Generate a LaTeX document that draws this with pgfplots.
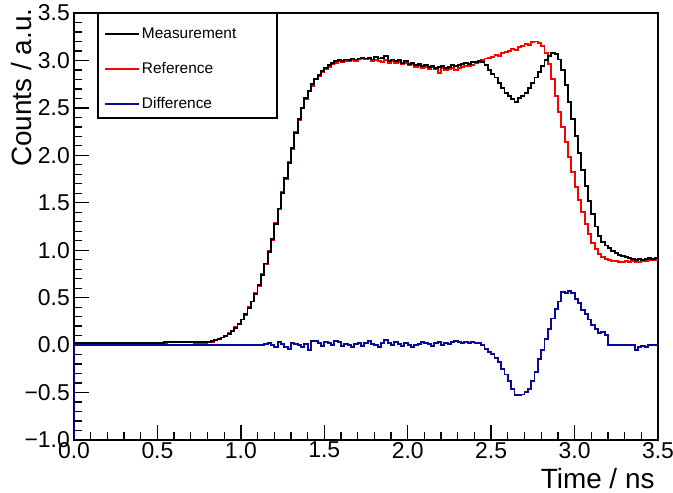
\documentclass[border=0pt]{standalone}
\usepackage{fontspec}
\setmainfont{Liberation Sans}
\usepackage{pgfplots}
\pgfplotsset{compat=1.18}
\definecolor{diffblue}{RGB}{10,10,150}

\begin{document}
\begin{tikzpicture}
\useasboundingbox (-74bp,-53bp) rectangle (599bp,440bp);
\begin{axis}[
  scale only axis, width=584bp, height=427bp,
  xmin=0, xmax=3.5, ymin=-1, ymax=3.5,
  xtick={0,0.5,1,1.5,2,2.5,3,3.5},
  ytick={-1,-0.5,0,0.5,1,1.5,2,2.5,3,3.5},
  xticklabels={0.0,0.5,1.0,1.5,2.0,2.5,3.0,3.5},
  yticklabels={−1.0,−0.5,0.0,0.5,1.0,1.5,2.0,2.5,3.0,3.5},
  minor tick num=4, tick pos=left, tick align=inside,
  major tick length=15bp, minor tick length=8bp,
  axis line style={line width=1.6bp},
  tick style={black, line width=1.3bp},
  ticklabel style={font=\fontsize{23}{26}\selectfont},
  xticklabel style={inner sep=2bp},
  yticklabel style={inner sep=4bp},
  legend style={at={(rel axis cs:0,1)}, anchor=north west,
    xshift=27bp, yshift=-12bp, draw=none, fill=none,
    font=\fontsize{15.5}{18}\selectfont, row sep=21bp,
    nodes={inner ysep=0pt, text height=11bp, text depth=3bp}},
  legend cell align=left,
  legend image code/.code={\draw[#1, line width=1.8bp] (0bp,0bp) -- (34bp,0bp);},
  every axis plot/.append style={const plot, line width=1.9bp},
]
\addlegendimage{black}
\addlegendentry{Measurement}
\addlegendimage{red}
\addlegendentry{Reference}
\addlegendimage{diffblue}
\addlegendentry{Difference}

% reference
\addplot[red, forget plot] coordinates {
  (0,0.02) (0.56,0.03) (0.72,0.02) (0.80,0.03) (0.82,0.03) (0.84,0.05)
  (0.86,0.07) (0.88,0.08) (0.90,0.10) (0.92,0.13) (0.94,0.15) (0.96,0.19)
  (0.98,0.22) (1.00,0.27) (1.02,0.32) (1.04,0.40) (1.06,0.46) (1.08,0.55)
  (1.10,0.62) (1.12,0.75) (1.14,0.85) (1.16,0.99) (1.18,1.11) (1.20,1.29)
  (1.22,1.43) (1.24,1.61) (1.26,1.75) (1.28,1.93) (1.30,2.07) (1.32,2.25)
  (1.34,2.37) (1.36,2.50) (1.38,2.59) (1.40,2.68) (1.42,2.73) (1.44,2.80)
  (1.46,2.84) (1.48,2.88) (1.50,2.91) (1.52,2.93) (1.54,2.96) (1.56,2.97)
  (1.58,2.99) (1.60,2.98) (1.62,2.99) (1.64,2.99) (1.66,3.00) (1.68,2.99)
  (1.70,3.01) (1.72,3.02) (1.74,3.01) (1.76,3.02) (1.78,2.99) (1.80,3.00)
  (1.82,2.99) (1.84,2.98) (1.86,3.00) (1.88,2.97) (1.90,2.99) (1.92,2.97)
  (1.94,2.98) (1.96,2.96) (1.98,2.97) (2.00,2.95) (2.02,2.96) (2.04,2.93)
  (2.06,2.94) (2.08,2.92) (2.10,2.93) (2.12,2.91) (2.14,2.93) (2.16,2.91)
  (2.18,2.87) (2.20,2.92) (2.22,2.90) (2.24,2.91) (2.26,2.92) (2.28,2.90)
  (2.30,2.92) (2.32,2.93) (2.34,2.94) (2.36,2.94) (2.38,2.95) (2.40,2.97)
  (2.42,2.98) (2.44,3.00) (2.46,3.02) (2.48,3.03) (2.50,3.04) (2.52,3.06)
  (2.54,3.05) (2.56,3.08) (2.58,3.09) (2.60,3.10) (2.62,3.12) (2.64,3.11)
  (2.66,3.14) (2.68,3.15) (2.70,3.17) (2.72,3.16) (2.74,3.19) (2.76,3.20)
  (2.78,3.18) (2.80,3.15) (2.82,3.08) (2.84,2.96) (2.86,2.80) (2.88,2.63)
  (2.90,2.46) (2.92,2.30) (2.94,2.14) (2.96,1.98) (2.98,1.82) (3.00,1.67)
  (3.02,1.53) (3.04,1.40) (3.06,1.28) (3.08,1.17) (3.10,1.08) (3.12,1.01)
  (3.14,0.96) (3.16,0.93) (3.18,0.91) (3.20,0.90) (3.22,0.89) (3.24,0.89)
  (3.26,0.88) (3.28,0.88) (3.30,0.89) (3.32,0.88) (3.34,0.89) (3.36,0.88)
  (3.40,0.89) (3.44,0.90) (3.48,0.90) (3.50,0.90)
};

% measurement
\addplot[black, forget plot] coordinates {
  (0,0.02) (0.54,0.03) (0.80,0.03) (0.82,0.04) (0.84,0.05) (0.86,0.06)
  (0.88,0.08) (0.90,0.10) (0.92,0.12) (0.94,0.15) (0.96,0.18) (0.98,0.22)
  (1.00,0.27) (1.02,0.33) (1.04,0.39) (1.06,0.46) (1.08,0.54) (1.10,0.63)
  (1.12,0.74) (1.14,0.86) (1.16,0.98) (1.18,1.12) (1.20,1.28) (1.22,1.44)
  (1.24,1.60) (1.26,1.76) (1.28,1.92) (1.30,2.08) (1.32,2.24) (1.34,2.38)
  (1.36,2.50) (1.38,2.60) (1.40,2.68) (1.42,2.75) (1.44,2.80) (1.46,2.85)
  (1.48,2.89) (1.50,2.92) (1.52,2.95) (1.54,2.97) (1.56,2.99) (1.58,3.00)
  (1.60,2.99) (1.62,3.01) (1.64,3.00) (1.66,3.02) (1.68,3.01) (1.70,3.02)
  (1.72,3.03) (1.74,3.02) (1.76,3.03) (1.78,3.01) (1.80,3.04) (1.82,3.02)
  (1.84,3.03) (1.86,3.05) (1.88,2.99) (1.90,3.01) (1.92,2.99) (1.94,3.00)
  (1.96,2.97) (1.98,2.99) (2.00,2.96) (2.02,2.97) (2.04,2.95) (2.06,2.96)
  (2.08,2.94) (2.10,2.95) (2.12,2.93) (2.14,2.94) (2.16,2.92) (2.18,2.93)
  (2.20,2.94) (2.22,2.92) (2.24,2.93) (2.26,2.95) (2.28,2.94) (2.30,2.95)
  (2.32,2.96) (2.34,2.97) (2.36,2.96) (2.38,2.98) (2.40,2.98) (2.42,2.99)
  (2.44,2.98) (2.46,2.95) (2.48,2.90) (2.50,2.86) (2.52,2.82) (2.54,2.76)
  (2.56,2.71) (2.58,2.66) (2.60,2.63) (2.62,2.59) (2.64,2.56) (2.66,2.60)
  (2.68,2.63) (2.70,2.66) (2.72,2.71) (2.74,2.76) (2.76,2.82) (2.78,2.88)
  (2.80,2.94) (2.82,3.00) (2.84,3.05) (2.86,3.08) (2.88,3.07) (2.90,3.01)
  (2.92,2.90) (2.94,2.74) (2.96,2.56) (2.98,2.38) (3.00,2.20) (3.02,2.02)
  (3.04,1.85) (3.06,1.68) (3.08,1.52) (3.10,1.38) (3.12,1.25) (3.14,1.15)
  (3.16,1.09) (3.18,1.05) (3.20,1.02) (3.22,0.99) (3.24,0.97) (3.26,0.95)
  (3.28,0.94) (3.30,0.93) (3.32,0.92) (3.34,0.91) (3.36,0.90) (3.38,0.91)
  (3.40,0.90) (3.42,0.91) (3.44,0.92) (3.46,0.91) (3.48,0.92) (3.50,0.92)
};

% difference
\addplot[diffblue, forget plot] coordinates {
  (0,-1) (0,0) (1.14,0.01) (1.16,0.02) (1.18,0.00) (1.20,-0.02) (1.22,0.03)
  (1.24,0.01) (1.26,-0.02) (1.28,-0.04) (1.30,0.02) (1.32,0.01) (1.34,0.00)
  (1.36,-0.02) (1.38,0.01) (1.40,-0.05) (1.42,0.04) (1.44,0.04) (1.46,0.02)
  (1.48,-0.01) (1.50,0.03) (1.52,0.02) (1.54,0.00) (1.56,0.04) (1.58,0.03)
  (1.60,-0.01) (1.62,0.01) (1.64,0.00) (1.66,-0.02) (1.68,0.01) (1.70,0.02)
  (1.72,-0.01) (1.74,0.02) (1.76,0.04) (1.78,0.01) (1.80,0.00) (1.82,-0.02)
  (1.84,0.02) (1.86,0.05) (1.88,0.02) (1.90,0.00) (1.92,0.03) (1.94,0.01)
  (1.96,-0.01) (1.98,0.02) (2.00,0.00) (2.02,-0.02) (2.04,0.00) (2.06,0.01)
  (2.08,0.03) (2.10,0.02) (2.12,0.01) (2.14,-0.01) (2.16,0.02) (2.18,0.03)
  (2.20,0.00) (2.22,0.02) (2.24,0.01) (2.26,0.03) (2.28,0.04) (2.30,0.03)
  (2.32,0.02) (2.34,0.03) (2.36,0.02) (2.38,0.03) (2.40,0.02) (2.42,0.02)
  (2.44,0.00) (2.46,-0.04) (2.48,-0.07) (2.50,-0.09) (2.52,-0.14) (2.54,-0.18)
  (2.56,-0.25) (2.58,-0.31) (2.60,-0.38) (2.62,-0.46) (2.64,-0.53) (2.66,-0.53)
  (2.68,-0.52) (2.70,-0.49) (2.72,-0.46) (2.74,-0.38) (2.76,-0.28) (2.78,-0.15)
  (2.80,-0.05) (2.82,0.06) (2.84,0.17) (2.86,0.28) (2.88,0.38) (2.90,0.46)
  (2.92,0.56) (2.94,0.55) (2.96,0.57) (2.98,0.55) (3.00,0.49) (3.02,0.44)
  (3.04,0.37) (3.06,0.33) (3.08,0.27) (3.10,0.21) (3.12,0.17) (3.14,0.13)
  (3.16,0.14) (3.18,0.11) (3.20,0.00) (3.36,-0.05) (3.38,-0.02) (3.40,-0.01)
  (3.42,-0.02) (3.44,0.00) (3.50,0.00)
};

\draw[line width=1.6bp] ([xshift=24bp]rel axis cs:0,1) rectangle ([xshift=203bp,yshift=-105bp]rel axis cs:0,1);
\end{axis}
\node[rotate=90, anchor=base east, font=\fontsize{28}{32}\selectfont] at (-42bp,435bp) {Counts / a.u.};
\node[anchor=base east, font=\fontsize{28}{32}\selectfont] at (584bp,-48bp) {Time / ns};
\end{tikzpicture}
\end{document}
